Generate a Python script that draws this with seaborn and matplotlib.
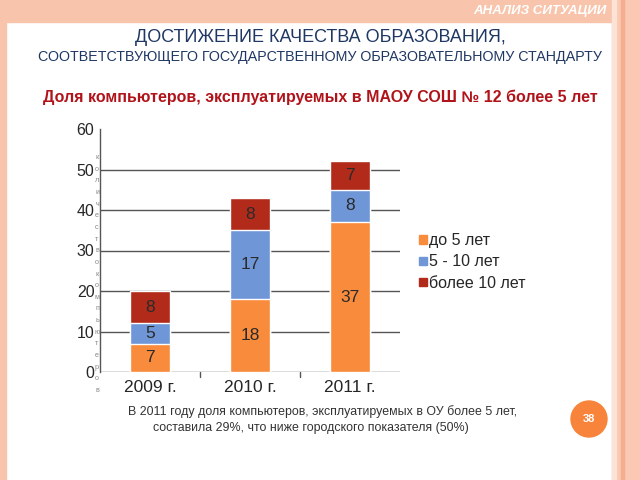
import numpy as np
import pandas as pd
import matplotlib
matplotlib.use('Agg')
import matplotlib.pyplot as plt
from matplotlib.patches import Rectangle, Circle, Patch
import seaborn as sns

# chart data
years = ['2009 г.', '2010 г.', '2011 г.']
under_5 = [7, 18, 37]
from_5_to_10 = [5, 17, 8]
over_10 = [8, 8, 7]
series_names = ['до 5 лет', '5 - 10 лет', 'более 10 лет']
y_ticks = [0, 10, 20, 30, 40, 50, 60]

c_orange = '#f98b3c'
c_blue = '#6f97d8'
c_red = '#b22a1a'

sns.set_style('white')
plt.rcParams['font.family'] = ['Liberation Sans', 'DejaVu Sans']

fig = plt.figure(figsize=(6.4, 4.8), dpi=100)
W, H = 640, 480
fx = lambda px: px / W
fy = lambda py: 1 - py / H

# slide frame
fig.patches.append(Rectangle((0, fy(22)), 1, 22 / H, transform=fig.transFigure,
                             color='#f8c4ab', zorder=0))
fig.patches.append(Rectangle((0, 0), fx(6), 1, transform=fig.transFigure,
                             color='#f8c4ab', zorder=0))
fig.patches.append(Rectangle((fx(612), 0), fx(28), 1, transform=fig.transFigure,
                             color='#fbc8b3', zorder=0))
fig.patches.append(Rectangle((fx(612), 0), fx(4), 1, transform=fig.transFigure,
                             color='#fde2d6', zorder=0))
fig.patches.append(Rectangle((fx(621), 0), fx(3), 1, transform=fig.transFigure,
                             color='#f5ad90', zorder=0))

fig.text(fx(607), fy(11), 'АНАЛИЗ СИТУАЦИИ', color='white', fontsize=9.5,
         fontweight='bold', style='italic', ha='right', va='center')
fig.text(fx(320), fy(37), 'ДОСТИЖЕНИЕ КАЧЕСТВА ОБРАЗОВАНИЯ,', color='#1f3763',
         fontsize=13, ha='center', va='center')
fig.text(fx(320), fy(57), 'СООТВЕТСТВУЮЩЕГО ГОСУДАРСТВЕННОМУ ОБРАЗОВАТЕЛЬНОМУ СТАНДАРТУ',
         color='#1f3763', fontsize=10.3, ha='center', va='center')
fig.text(fx(320), fy(97), 'Доля компьютеров, эксплуатируемых в МАОУ СОШ № 12 более 5 лет',
         color='#b0141a', fontsize=11.5, fontweight='bold', ha='center', va='center')

# chart
ax = fig.add_axes([fx(100), fy(372), fx(400) - fx(100), fy(129) - fy(372)])
df = pd.DataFrame({'year': years, 'a': under_5, 'b': from_5_to_10, 'c': over_10})
df['ab'] = df['a'] + df['b']
df['abc'] = df['ab'] + df['c']

sns.barplot(data=df, x='year', y='abc', color=c_red, width=0.4, saturation=1, ax=ax, zorder=3)
sns.barplot(data=df, x='year', y='ab', color=c_blue, width=0.4, saturation=1, ax=ax, zorder=3)
sns.barplot(data=df, x='year', y='a', color=c_orange, width=0.4, saturation=1, ax=ax, zorder=3)

for i in range(len(years)):
    bottom = 0
    for v in (under_5[i], from_5_to_10[i], over_10[i]):
        ax.text(i, bottom + v / 2, str(v), ha='center', va='center',
                fontsize=12.5, color='#2a2a2a', zorder=4)
        bottom += v

ax.set_ylim(0, 60)
ax.set_xlim(-0.5, 2.5)
ax.set_yticks(y_ticks)
ax.tick_params(axis='y', labelsize=11.5, length=3, color='#555555', pad=1)
ax.tick_params(axis='x', labelsize=12.5, length=0, pad=6)
for t in y_ticks[:-1]:
    ax.axhline(t, color='#555555', lw=1, zorder=1)
ax.set_xlabel('')
ax.set_ylabel('')
for s in ('top', 'right', 'bottom'):
    ax.spines[s].set_visible(False)
ax.spines['left'].set_color('#555555')
ax.spines['left'].set_linewidth(1)
for xb in (0.5, 1.5):
    ax.plot([xb, xb], [0, -1.2], color='#555555', lw=1, clip_on=False)

# stacked-letter axis title
fig.text(fx(97), fy(274), '\n'.join('количествокомпьютеров'), fontsize=5.2,
         color='#888888', ha='center', va='center', linespacing=1.93)

handles = [Patch(color=c) for c in (c_orange, c_blue, c_red)]
fig.legend(handles, series_names, loc='center left', bbox_to_anchor=(fx(413), fy(262)),
           frameon=False, fontsize=11.5, handlelength=0.45, handleheight=0.45,
           handletextpad=0.15, labelspacing=0.4, borderaxespad=0)

fig.text(fx(128), fy(412), 'В 2011 году доля компьютеров, эксплуатируемых в ОУ более 5 лет,',
         fontsize=8.9, color='#333333', ha='left', va='center')
fig.text(fx(153), fy(428), 'составила 29%, что ниже городского показателя (50%)',
         fontsize=8.9, color='#333333', ha='left', va='center')

# page number badge (inches, so it stays round)
fig.patches.append(Circle((5.89, 4.8 - 4.19), 0.18, transform=fig.dpi_scale_trans,
                          color='#f7843a', zorder=2))
fig.text(fx(589), fy(419), '38', color='white', fontsize=8, fontweight='bold',
         ha='center', va='center', zorder=3)

fig.savefig('out.png', dpi=100, facecolor='white')
